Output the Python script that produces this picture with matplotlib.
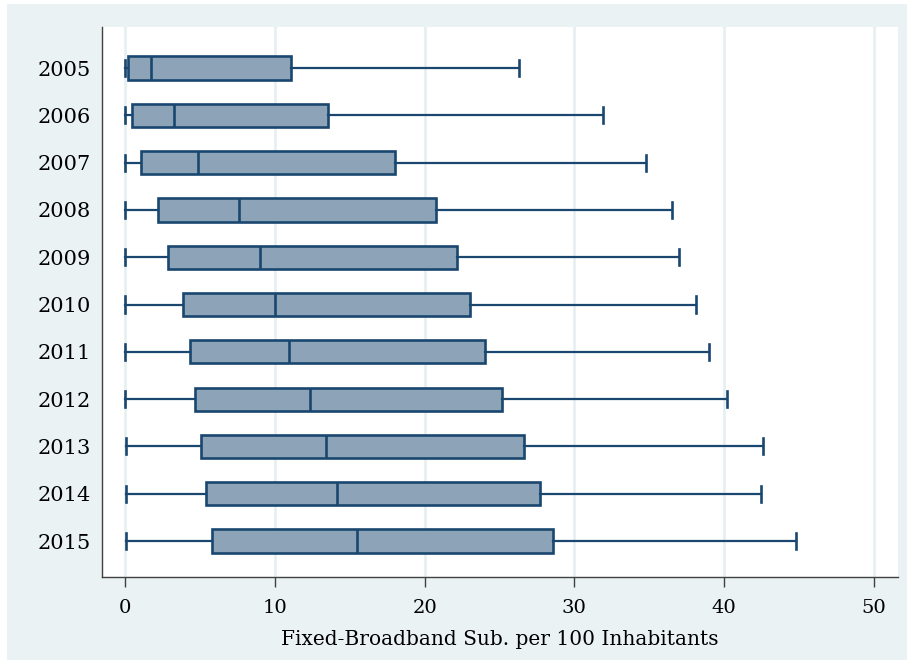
import matplotlib.pyplot as plt
from matplotlib.patches import Rectangle

YEARS = ['2005', '2006', '2007', '2008', '2009', '2010',
         '2011', '2012', '2013', '2014', '2015']

# box plot summaries, per 100 inhabitants
WHISKER_LO = [0.0, 0.0, 0.0, 0.0, 0.0, 0.0, 0.0, 0.0, 0.05, 0.05, 0.07]
Q1 = [0.18, 0.47, 1.07, 2.18, 2.89, 3.89, 4.32, 4.69, 5.07, 5.43, 5.83]
MEDIAN = [1.74, 3.25, 4.90, 7.59, 9.03, 10.01, 10.93, 12.35, 13.40, 14.13, 15.47]
Q3 = [11.10, 13.53, 18.00, 20.74, 22.16, 23.05, 24.03, 25.15, 26.66, 27.70, 28.58]
WHISKER_HI = [26.28, 31.90, 34.80, 36.50, 37.00, 38.10, 39.00, 40.17, 42.57, 42.43, 44.77]

XTICKS = [0, 10, 20, 30, 40, 50]
XLABEL = 'Fixed-Broadband Sub. per 100 Inhabitants'

BG = '#eaf2f3'
NAVY = '#1a476f'
FILL = '#8ca3b8'
GRID = '#e5eef1'
FONT = 'DejaVu Serif'


def main():
    plt.rcParams['font.family'] = FONT

    fig = plt.figure(figsize=(9.07, 6.6), dpi=100, facecolor='white')
    fig.patches.append(Rectangle((7 / 907, 0), 1, 1 - 4 / 660,
                                 transform=fig.transFigure, facecolor=BG,
                                 edgecolor='none', zorder=-10))
    ax = fig.add_axes([102 / 907, 1 - 577 / 660, 796 / 907, 550 / 660])
    ax.set_facecolor('white')

    stats = []
    for i, year in enumerate(YEARS):
        stats.append({
            'label': year,
            'whislo': WHISKER_LO[i],
            'q1': Q1[i],
            'med': MEDIAN[i],
            'q3': Q3[i],
            'whishi': WHISKER_HI[i],
            'fliers': [],
        })

    positions = list(range(len(YEARS)))
    ax.bxp(stats, positions=positions, vert=False, widths=0.49,
           capwidths=0.34, patch_artist=True, showfliers=False,
           boxprops=dict(facecolor=FILL, edgecolor=NAVY, linewidth=1.9),
           medianprops=dict(color=NAVY, linewidth=1.9),
           whiskerprops=dict(color=NAVY, linewidth=1.6),
           capprops=dict(color=NAVY, linewidth=1.9))

    ax.set_ylim(10.76, -0.867)
    ax.set_xlim(-1.535, 51.6)

    ax.set_xticks(XTICKS)
    ax.set_xticklabels([str(t) for t in XTICKS])
    ax.set_yticks(positions)
    ax.set_yticklabels(YEARS)

    ax.xaxis.grid(True, color=GRID, linewidth=1.8)
    ax.set_axisbelow(True)

    for side in ['top', 'right']:
        ax.spines[side].set_visible(False)
    for side in ['left', 'bottom']:
        ax.spines[side].set_color('#404040')
        ax.spines[side].set_linewidth(1.0)

    ax.tick_params(axis='y', length=0, pad=8, labelsize=15, colors='black')
    ax.tick_params(axis='x', length=7, width=1.0, color='#404040',
                   pad=9, labelsize=14, labelcolor='black')

    ax.set_xlabel(XLABEL, fontsize=14.5, labelpad=9)

    fig.savefig('out.png', dpi=100, facecolor=fig.get_facecolor())
    plt.close('all')


if __name__ == '__main__':
    main()
